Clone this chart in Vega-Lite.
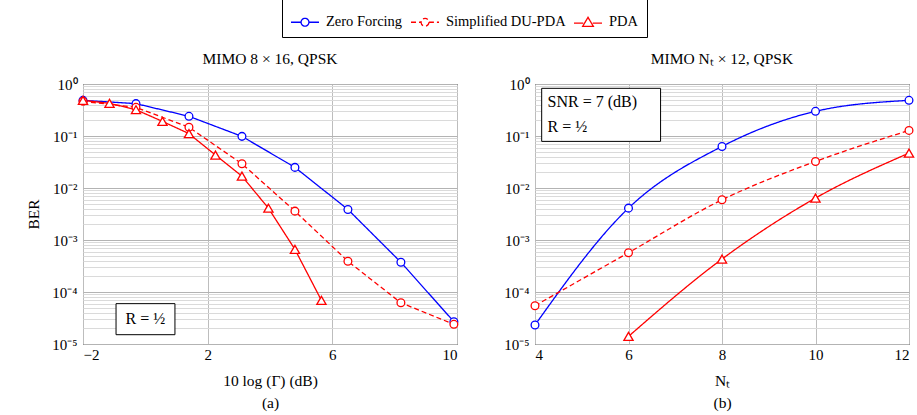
{
  "$schema": "https://vega.github.io/schema/vega-lite/v6.json",
  "padding": {"left": 26, "top": -2, "right": 2, "bottom": 2},
  "bounds": "flush",
  "spacing": 78,
  "config": {
    "font": "Liberation Serif",
    "view": {"stroke": "black", "strokeWidth": 1},
    "title": {"fontSize": 15.5, "fontWeight": "normal", "font": "Liberation Serif", "offset": 10},
    "axis": {
      "labelFont": "Liberation Serif", "titleFont": "Liberation Serif",
      "labelFontSize": 15, "titleFontSize": 15.5, "titleFontWeight": "normal",
      "labelColor": "black", "titleColor": "black",
      "ticks": false, "domain": false, "grid": true, "labelPadding": 6
    }
  },
  "datasets": {
    "a": [
      {"x": -2, "ber": 0.485, "s": "Zero Forcing"},
      {"x": -0.3, "ber": 0.419, "s": "Zero Forcing"},
      {"x": 1.4, "ber": 0.239, "s": "Zero Forcing"},
      {"x": 3.1, "ber": 0.0984, "s": "Zero Forcing"},
      {"x": 4.8, "ber": 0.0249, "s": "Zero Forcing"},
      {"x": 6.5, "ber": 0.00387, "s": "Zero Forcing"},
      {"x": 8.2, "ber": 0.000373, "s": "Zero Forcing"},
      {"x": 9.9, "ber": 0.0000269, "s": "Zero Forcing"},
      {"x": -2, "ber": 0.464, "s": "Simplified DU-PDA"},
      {"x": -0.3, "ber": 0.356, "s": "Simplified DU-PDA"},
      {"x": 1.4, "ber": 0.147, "s": "Simplified DU-PDA"},
      {"x": 3.1, "ber": 0.0292, "s": "Simplified DU-PDA"},
      {"x": 4.8, "ber": 0.00359, "s": "Simplified DU-PDA"},
      {"x": 6.5, "ber": 0.00039, "s": "Simplified DU-PDA"},
      {"x": 8.2, "ber": 0.000062, "s": "Simplified DU-PDA"},
      {"x": 9.9, "ber": 0.0000239, "s": "Simplified DU-PDA"},
      {"x": -2, "ber": 0.485, "s": "PDA"},
      {"x": -1.15, "ber": 0.425, "s": "PDA"},
      {"x": -0.3, "ber": 0.32, "s": "PDA"},
      {"x": 0.55, "ber": 0.191, "s": "PDA"},
      {"x": 1.4, "ber": 0.111, "s": "PDA"},
      {"x": 2.25, "ber": 0.043, "s": "PDA"},
      {"x": 3.1, "ber": 0.0169, "s": "PDA"},
      {"x": 3.95, "ber": 0.00409, "s": "PDA"},
      {"x": 4.8, "ber": 0.00066, "s": "PDA"},
      {"x": 5.65, "ber": 0.000069, "s": "PDA"}
    ],
    "b": [
      {"x": 4, "ber": 0.0000232, "s": "Zero Forcing"},
      {"x": 6, "ber": 0.0041, "s": "Zero Forcing"},
      {"x": 8, "ber": 0.063, "s": "Zero Forcing"},
      {"x": 10, "ber": 0.298, "s": "Zero Forcing"},
      {"x": 12, "ber": 0.485, "s": "Zero Forcing"},
      {"x": 4, "ber": 0.0000545, "s": "Simplified DU-PDA"},
      {"x": 6, "ber": 0.00057, "s": "Simplified DU-PDA"},
      {"x": 8, "ber": 0.00593, "s": "Simplified DU-PDA"},
      {"x": 10, "ber": 0.0324, "s": "Simplified DU-PDA"},
      {"x": 12, "ber": 0.128, "s": "Simplified DU-PDA"},
      {"x": 6, "ber": 0.000014, "s": "PDA"},
      {"x": 8, "ber": 0.00043, "s": "PDA"},
      {"x": 10, "ber": 0.0064, "s": "PDA"},
      {"x": 12, "ber": 0.0469, "s": "PDA"}
    ],
    "boxa": [{"x1": -0.94, "x2": 0.95, "y1": 0.0000151, "y2": 0.0000597}],
    "texta": [{"x": 0.0, "y": 0.0000305, "t": "R = ½"}],
    "boxb": [{"x1": 4.143, "x2": 6.686, "y1": 0.0788, "y2": 0.826}],
    "textb": [{"x": 4.27, "y": 0.46, "t": "SNR = 7 (dB)"}, {"x": 4.27, "y": 0.15, "t": "R = ½"}]
  },
  "hconcat": [
    {
      "width": 374,
      "height": 260,
      "title": "MIMO 8 × 16, QPSK",
      "layer": [
        {
          "data": {"name": "a"},
          "mark": {"type": "line", "strokeWidth": 1.3},
          "encoding": {
            "x": {"field": "x", "type": "quantitative", "scale": {"domain": [-2, 10], "nice": false, "zero": false},
                  "axis": {"values": [-2, 2, 6, 10], "title": ["10 log (Γ) (dB)", "(a)"], "titleLineHeight": 22, "titlePadding": 11, "labelPadding": 3, "gridColor": "#bdbdbd"}},
            "y": {"field": "ber", "type": "quantitative",
                  "scale": {"type": "log", "domain": [0.00001, 1], "nice": false},
                  "axis": {"title": "BER", "titlePadding": 10,
                           "values": [0.00001,0.00002,0.00003,0.00004,0.00005,0.00006,0.00007,0.00008,0.00009,0.0001,0.0002,0.0003,0.0004,0.0005,0.0006,0.0007,0.0008,0.0009,0.001,0.002,0.003,0.004,0.005,0.006,0.007,0.008,0.009,0.01,0.02,0.03,0.04,0.05,0.06,0.07,0.08,0.09,0.1,0.2,0.3,0.4,0.5,0.6,0.7,0.8,0.9,1],
                           "labelExpr": "datum.value == 1 ? '10⁰' : datum.value == 0.1 ? '10⁻¹' : datum.value == 0.01 ? '10⁻²' : datum.value == 0.001 ? '10⁻³' : datum.value == 0.0001 ? '10⁻⁴' : datum.value == 0.00001 ? '10⁻⁵' : ''",
                           "gridColor": {"condition": {"test": "indexof([1,0.1,0.01,0.001,0.0001,0.00001], datum.value) >= 0", "value": "#b3b3b3"}, "value": "#dadada"}}},
            "color": {"field": "s", "type": "nominal",
                      "scale": {"domain": ["Zero Forcing", "Simplified DU-PDA", "PDA"], "range": ["#0000ff", "#ff0000", "#ff0000"]},
                      "legend": {"orient": "none", "legendX": 199, "legendY": -85, "direction": "horizontal", "columns": 3, "title": null,
                                 "strokeColor": "black", "padding": 8, "labelFontSize": 14.5, "labelFont": "Liberation Serif", "labelColor": "black",
                                 "symbolSize": 784, "symbolStrokeWidth": 1.3, "columnPadding": 5, "labelOffset": 6,
                                 "encode": {"symbols": {"update": {
                                   "shape": {"signal": "datum.value === 'PDA' ? 'M-1,0.08H-0.34M0.34,0.08H1M0,-0.34L0.38,0.3L-0.38,0.3Z' : 'M-1,0H-0.28M0.28,0H1M0.28,0A0.28,0.28 0 1,1 -0.28,0A0.28,0.28 0 1,1 0.28,0'"},
                                   "strokeDash": {"signal": "datum.value === 'Simplified DU-PDA' ? [4,3] : [1,0]"},
                                   "fill": {"value": "white"},
                                   "fillOpacity": {"value": 1},
                                   "strokeWidth": {"value": 1.3}
                                 }}}}},
            "strokeDash": {"field": "s", "type": "nominal",
                           "scale": {"domain": ["Zero Forcing", "Simplified DU-PDA", "PDA"], "range": [[1, 0], [5, 3], [1, 0]]},
                           "legend": null}
          }
        },
        {
          "data": {"name": "a"},
          "transform": [{"filter": "datum.s != 'PDA'"}],
          "mark": {"type": "point", "shape": "circle", "filled": false, "fill": "white", "fillOpacity": 1, "strokeWidth": 1.3, "size": 60},
          "encoding": {
            "x": {"field": "x", "type": "quantitative"},
            "y": {"field": "ber", "type": "quantitative"},
            "color": {"field": "s", "type": "nominal", "legend": null}
          }
        },
        {
          "data": {"name": "a"},
          "transform": [{"filter": "datum.s == 'PDA'"}],
          "mark": {"type": "point", "shape": "triangle-up", "filled": false, "fill": "white", "fillOpacity": 1, "strokeWidth": 1.3, "size": 85},
          "encoding": {
            "x": {"field": "x", "type": "quantitative"},
            "y": {"field": "ber", "type": "quantitative"},
            "color": {"field": "s", "type": "nominal", "legend": null}
          }
        },
        {
          "data": {"name": "boxa"},
          "mark": {"type": "rect", "fill": "white", "stroke": "black", "strokeWidth": 1},
          "encoding": {
            "x": {"field": "x1", "type": "quantitative"}, "x2": {"field": "x2"},
            "y": {"field": "y1", "type": "quantitative"}, "y2": {"field": "y2"}
          }
        },
        {
          "data": {"name": "texta"},
          "mark": {"type": "text", "fontSize": 16, "font": "Liberation Serif", "align": "center", "baseline": "middle", "color": "black"},
          "encoding": {
            "x": {"field": "x", "type": "quantitative"},
            "y": {"field": "y", "type": "quantitative"},
            "text": {"field": "t"}
          }
        }
      ]
    },
    {
      "width": 374,
      "height": 260,
      "title": "MIMO Nₜ × 12, QPSK",
      "layer": [
        {
          "data": {"name": "b"},
          "mark": {"type": "line", "strokeWidth": 1.3, "interpolate": "monotone"},
          "encoding": {
            "x": {"field": "x", "type": "quantitative", "scale": {"domain": [4, 12], "nice": false, "zero": false},
                  "axis": {"values": [4, 6, 8, 10, 12], "title": ["Nₜ", "(b)"], "titleLineHeight": 22, "titlePadding": 11, "labelPadding": 3, "gridColor": "#bdbdbd"}},
            "y": {"field": "ber", "type": "quantitative",
                  "scale": {"type": "log", "domain": [0.00001, 1], "nice": false},
                  "axis": {"title": null,
                           "values": [0.00001,0.00002,0.00003,0.00004,0.00005,0.00006,0.00007,0.00008,0.00009,0.0001,0.0002,0.0003,0.0004,0.0005,0.0006,0.0007,0.0008,0.0009,0.001,0.002,0.003,0.004,0.005,0.006,0.007,0.008,0.009,0.01,0.02,0.03,0.04,0.05,0.06,0.07,0.08,0.09,0.1,0.2,0.3,0.4,0.5,0.6,0.7,0.8,0.9,1],
                           "labelExpr": "datum.value == 1 ? '10⁰' : datum.value == 0.1 ? '10⁻¹' : datum.value == 0.01 ? '10⁻²' : datum.value == 0.001 ? '10⁻³' : datum.value == 0.0001 ? '10⁻⁴' : datum.value == 0.00001 ? '10⁻⁵' : ''",
                           "gridColor": {"condition": {"test": "indexof([1,0.1,0.01,0.001,0.0001,0.00001], datum.value) >= 0", "value": "#b3b3b3"}, "value": "#dadada"}}},
            "color": {"field": "s", "type": "nominal",
                      "scale": {"domain": ["Zero Forcing", "Simplified DU-PDA", "PDA"], "range": ["#0000ff", "#ff0000", "#ff0000"]},
                      "legend": null},
            "strokeDash": {"field": "s", "type": "nominal",
                           "scale": {"domain": ["Zero Forcing", "Simplified DU-PDA", "PDA"], "range": [[1, 0], [5, 3], [1, 0]]},
                           "legend": null}
          }
        },
        {
          "data": {"name": "b"},
          "transform": [{"filter": "datum.s != 'PDA'"}],
          "mark": {"type": "point", "shape": "circle", "filled": false, "fill": "white", "fillOpacity": 1, "strokeWidth": 1.3, "size": 60},
          "encoding": {
            "x": {"field": "x", "type": "quantitative"},
            "y": {"field": "ber", "type": "quantitative"},
            "color": {"field": "s", "type": "nominal", "legend": null}
          }
        },
        {
          "data": {"name": "b"},
          "transform": [{"filter": "datum.s == 'PDA'"}],
          "mark": {"type": "point", "shape": "triangle-up", "filled": false, "fill": "white", "fillOpacity": 1, "strokeWidth": 1.3, "size": 85},
          "encoding": {
            "x": {"field": "x", "type": "quantitative"},
            "y": {"field": "ber", "type": "quantitative"},
            "color": {"field": "s", "type": "nominal", "legend": null}
          }
        },
        {
          "data": {"name": "boxb"},
          "mark": {"type": "rect", "fill": "white", "stroke": "black", "strokeWidth": 1},
          "encoding": {
            "x": {"field": "x1", "type": "quantitative"}, "x2": {"field": "x2"},
            "y": {"field": "y1", "type": "quantitative"}, "y2": {"field": "y2"}
          }
        },
        {
          "data": {"name": "textb"},
          "mark": {"type": "text", "fontSize": 16, "font": "Liberation Serif", "align": "left", "baseline": "middle", "color": "black"},
          "encoding": {
            "x": {"field": "x", "type": "quantitative"},
            "y": {"field": "y", "type": "quantitative"},
            "text": {"field": "t"}
          }
        }
      ]
    }
  ]
}
